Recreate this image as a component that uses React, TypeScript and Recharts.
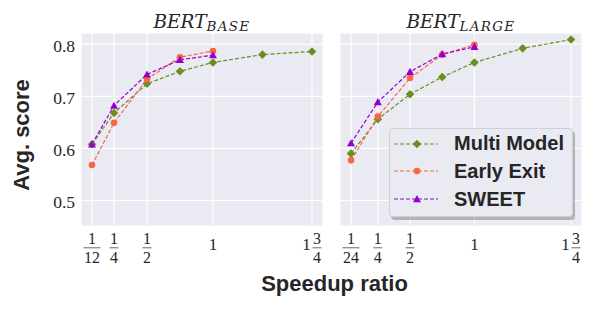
import React from "react";
import { LineChart, Line, XAxis, YAxis, CartesianGrid, Legend } from "recharts";

const seriesNames = ["Multi Model", "Early Exit", "SWEET"];
const seriesKeys = ["multi", "early", "sweet"];
const colors = ["#6b8e23", "#ff6347", "#9400d3"];

// BERT base
const baseSpeedup = [1 / 12, 1 / 4, 1 / 2, 3 / 4, 1, 1.375, 1.75];
const baseMulti = [0.608, 0.668, 0.724, 0.748, 0.765, 0.78, 0.786];
const baseEarly = [0.568, 0.649, 0.733, 0.775, 0.787];
const baseSweet = [0.608, 0.682, 0.742, 0.77, 0.779];
const baseTicks = [1 / 12, 1 / 4, 1 / 2, 1, 1.75];
const baseTickLabels = ["1/12", "1/4", "1/2", "1", "1 3/4"];

// BERT large
const largeSpeedup = [1 / 24, 1 / 4, 1 / 2, 3 / 4, 1, 1.375, 1.75];
const largeMulti = [0.59, 0.656, 0.704, 0.737, 0.765, 0.792, 0.809];
const largeEarly = [0.577, 0.661, 0.735, 0.78, 0.799];
const largeSweet = [0.61, 0.689, 0.747, 0.781, 0.795];
const largeTicks = [1 / 24, 1 / 4, 1 / 2, 1, 1.75];
const largeTickLabels = ["1/24", "1/4", "1/2", "1", "1 3/4"];

const yTicks = [0.5, 0.6, 0.7, 0.8];

const buildRows = (xs: number[], a: number[], b: number[], c: number[]) =>
  xs.map((x, i) => ({ x, multi: a[i], early: b[i], sweet: c[i] }));

const baseRows = buildRows(baseSpeedup, baseMulti, baseEarly, baseSweet);
const largeRows = buildRows(largeSpeedup, largeMulti, largeEarly, largeSweet);

const TEXT = "#262626";
const SERIF = "'Liberation Serif', serif";
const SANS = "'Liberation Sans', Arial, sans-serif";

function Marker({ kind, cx, cy, color }: any) {
  if (cx == null || cy == null || isNaN(cx) || isNaN(cy)) return null;
  if (kind === 0) {
    const s = 4.3;
    return <path d={`M${cx},${cy - s}L${cx + s},${cy}L${cx},${cy + s}L${cx - s},${cy}Z`} fill={color} />;
  }
  if (kind === 1) return <circle cx={cx} cy={cy} r={3.3} fill={color} />;
  const s = 4;
  return <path d={`M${cx},${cy - s}L${cx + s},${cy + s * 0.8}L${cx - s},${cy + s * 0.8}Z`} fill={color} />;
}

const makeDot = (kind: number) => (p: any) => (
  <Marker key={`${kind}-${p.index}`} kind={kind} cx={p.cx} cy={p.cy} color={colors[kind]} />
);

function makeXTick(ticks: number[], labels: string[]) {
  return (props: any) => {
    const { x, y, payload } = props;
    const i = ticks.findIndex((t) => Math.abs(t - payload.value) < 1e-6);
    const lab = i >= 0 ? labels[i] : "";
    const parts = lab.split(" ");
    let whole = "";
    let frac = "";
    if (parts.length === 2) {
      whole = parts[0];
      frac = parts[1];
    } else if (lab.includes("/")) frac = lab;
    else whole = lab;
    const fs = 16;
    const els: any[] = [];
    let fx = x;
    if (whole && frac) {
      els.push(
        <text key="w" x={x - 5.5} y={y + 23.5} textAnchor="middle" fontSize={17} fontFamily={SERIF} fill={TEXT}>
          {whole}
        </text>
      );
      fx = x + 5;
    } else if (whole) {
      els.push(
        <text key="w" x={x} y={y + 23.5} textAnchor="middle" fontSize={17} fontFamily={SERIF} fill={TEXT}>
          {whole}
        </text>
      );
    }
    if (frac) {
      const [n, d] = frac.split("/");
      const w = Math.max(n.length, d.length) * 8 + 1;
      els.push(
        <text key="n" x={fx} y={y + 18.3} textAnchor="middle" fontSize={fs} fontFamily={SERIF} fill={TEXT}>
          {n}
        </text>,
        <line key="b" x1={fx - w / 2} x2={fx + w / 2} y1={y + 21.8} y2={y + 21.8} stroke={TEXT} strokeWidth={0.7} />,
        <text key="d" x={fx} y={y + 36.6} textAnchor="middle" fontSize={fs} fontFamily={SERIF} fill={TEXT}>
          {d}
        </text>
      );
    }
    return <g>{els}</g>;
  };
}

const YTick = (props: any) => {
  const { x, y, payload } = props;
  return (
    <text x={x} y={y + 8} textAnchor="end" fontSize={17.5} fontFamily={SERIF} fill={TEXT}>
      {payload.value.toFixed(1)}
    </text>
  );
};

const LegendBox = () => (
  <div
    style={{
      position: "relative",
      width: 184,
      height: 89,
      boxSizing: "border-box",
      background: "#EAEAF2",
      border: "1px solid #cfcfd4",
      borderRadius: 4,
      boxShadow: "2px 3px 0 rgba(110,110,110,0.45)",
    }}
  >
    {seriesNames.map((name, i) => (
      <div key={name} style={{ position: "absolute", left: 0, top: 14.7 + i * 27.7 - 10, height: 20, width: 184 }}>
        <svg width={46} height={20} style={{ position: "absolute", left: 3, top: 0 }}>
          <line x1={1} x2={45} y1={10} y2={10} stroke={colors[i]} strokeWidth={1.2} strokeDasharray="4 2" />
          <Marker kind={i} cx={24} cy={10} color={colors[i]} />
        </svg>
        <span
          style={{
            position: "absolute",
            left: 64,
            top: -1.5,
            fontFamily: SANS,
            fontWeight: 700,
            fontSize: 20,
            lineHeight: "22px",
            color: TEXT,
            whiteSpace: "nowrap",
          }}
        >
          {name}
        </span>
      </div>
    ))}
  </div>
);

const yDomain: [number, number] = [0.451, 0.8215];

export default function App() {
  return (
    <div style={{ position: "absolute", left: 0, top: 0, width: 598, height: 314, background: "#fff" }}>
      <div style={{ position: "absolute", left: 0, top: 0 }}>
        <LineChart width={330} height={314} data={baseRows} margin={{ top: 33, right: 7, bottom: 0, left: 21 }}>
          <CartesianGrid fill="#EAEAF2" stroke="#ffffff" strokeWidth={1.2} />
          <XAxis
            dataKey="x"
            type="number"
            domain={[0, 1.8333]}
            ticks={baseTicks}
            interval={0}
            allowDataOverflow
            height={88}
            axisLine={false}
            tickLine={false}
            tickSize={0}
            tickMargin={0}
            tick={makeXTick(baseTicks, baseTickLabels)}
          />
          <YAxis
            type="number"
            domain={yDomain}
            ticks={yTicks}
            allowDataOverflow
            width={60}
            axisLine={false}
            tickLine={false}
            tickSize={0}
            tickMargin={6}
            tick={YTick}
          />
          {seriesKeys.map((k, i) => (
            <Line
              key={k}
              dataKey={k}
              stroke={colors[i]}
              strokeWidth={1.2}
              strokeDasharray="4 2"
              dot={makeDot(i)}
              activeDot={false}
              isAnimationActive={false}
              type="linear"
            />
          ))}
        </LineChart>
      </div>
      <div style={{ position: "absolute", left: 330, top: 0 }}>
        <LineChart width={268} height={314} data={largeRows} margin={{ top: 33, right: 16, bottom: 0, left: 10 }}>
          <CartesianGrid fill="#EAEAF2" stroke="#ffffff" strokeWidth={1.2} />
          <XAxis
            dataKey="x"
            type="number"
            domain={[-0.04375, 1.83542]}
            ticks={largeTicks}
            interval={0}
            allowDataOverflow
            height={88}
            axisLine={false}
            tickLine={false}
            tickSize={0}
            tickMargin={0}
            tick={makeXTick(largeTicks, largeTickLabels)}
          />
          <YAxis type="number" domain={yDomain} ticks={yTicks} allowDataOverflow hide />
          {seriesKeys.map((k, i) => (
            <Line
              key={k}
              dataKey={k}
              stroke={colors[i]}
              strokeWidth={1.2}
              strokeDasharray="4 2"
              dot={makeDot(i)}
              activeDot={false}
              isAnimationActive={false}
              type="linear"
            />
          ))}
          <Legend
            layout="vertical"
            align="center"
            verticalAlign="middle"
            content={() => <LegendBox />}
            wrapperStyle={{ left: 59, top: 128, width: 184, height: 89 }}
          />
        </LineChart>
      </div>
      <svg width={598} height={314} style={{ position: "absolute", left: 0, top: 0, pointerEvents: "none" }}>
        <text x={202} y={27.5} textAnchor="middle" fill={TEXT} fontFamily="'DejaVu Serif', serif" fontStyle="italic">
          <tspan fontSize={18.5}>BERT</tspan>
          <tspan fontSize={13.5} dy={3} letterSpacing={1.3}>BASE</tspan>
        </text>
        <text x={461} y={27.5} textAnchor="middle" fill={TEXT} fontFamily="'DejaVu Serif', serif" fontStyle="italic">
          <tspan fontSize={18.5}>BERT</tspan>
          <tspan fontSize={13.5} dy={3} letterSpacing={1.3}>LARGE</tspan>
        </text>
        <text
          transform="translate(28.5,135) rotate(-90)"
          textAnchor="middle"
          fill={TEXT}
          fontFamily={SANS}
          fontWeight={700}
          fontSize={22}
        >
          Avg. score
        </text>
        <text x={334.5} y={290.5} textAnchor="middle" fill={TEXT} fontFamily={SANS} fontWeight={700} fontSize={22}>
          Speedup ratio
        </text>
      </svg>
    </div>
  );
}
